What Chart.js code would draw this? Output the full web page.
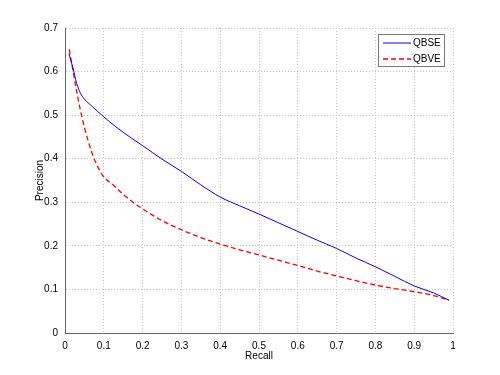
<!DOCTYPE html>
<html lang="en">
<head>
  <meta charset="UTF-8">
  <title>Precision / Recall</title>
  <style>
    body { margin: 0; background: #ffffff; }
    #wrap { width: 500px; height: 375px; }
  </style>
</head>
<body>
  <div id="wrap"><canvas id="prChart" width="500" height="375"></canvas></div>

  <script src="https://cdn.jsdelivr.net/npm/chart.js"></script>
  <script>
    // Series
    const qbseRecall = [0.01, 0.02, 0.03, 0.04, 0.05, 0.07, 0.1, 0.13, 0.17, 0.2, 0.25, 0.3, 0.35, 0.4, 0.45, 0.5, 0.55, 0.6, 0.65, 0.7, 0.75, 0.8, 0.85, 0.9, 0.95, 0.99];
    const qbsePrecision = [0.641, 0.61, 0.573, 0.55, 0.537, 0.52, 0.496, 0.474, 0.448, 0.43, 0.399, 0.371, 0.34, 0.312, 0.292, 0.273, 0.253, 0.233, 0.213, 0.194, 0.172, 0.152, 0.13, 0.108, 0.092, 0.075];

    const qbveRecall = [0.011, 0.02, 0.03, 0.04, 0.05, 0.06, 0.07, 0.08, 0.09, 0.1, 0.125, 0.15, 0.2, 0.25, 0.3, 0.35, 0.4, 0.45, 0.5, 0.55, 0.6, 0.65, 0.7, 0.75, 0.8, 0.85, 0.9, 0.95, 0.99];
    const qbvePrecision = [0.651, 0.605, 0.555, 0.51, 0.472, 0.44, 0.412, 0.39, 0.372, 0.358, 0.339, 0.318, 0.285, 0.258, 0.237, 0.219, 0.204, 0.191, 0.179, 0.167, 0.155, 0.142, 0.131, 0.12, 0.11, 0.102, 0.095, 0.086, 0.075];

    const seriesLabels = ['QBSE', 'QBVE'];
    const xTicks = [0, 0.1, 0.2, 0.3, 0.4, 0.5, 0.6, 0.7, 0.8, 0.9, 1];
    const yTicks = [0, 0.1, 0.2, 0.3, 0.4, 0.5, 0.6, 0.7];

    const toPoints = (xs, ys) => xs.map((x, i) => ({ x: x, y: ys[i] }));
    const fontSpec = { family: "'Liberation Sans', Arial, sans-serif", size: 10 };

    // matlab-style boxed legend in the top right corner
    const boxLegend = {
      id: 'boxLegend',
      afterDraw(chart) {
        const ctx = chart.ctx;
        const area = chart.chartArea;
        const x0 = area.right - 75, y0 = area.top + 6, w = 66, h = 32;
        ctx.save();
        ctx.fillStyle = '#ffffff';
        ctx.fillRect(x0, y0, w, h);
        ctx.strokeStyle = '#7a7a7a';
        ctx.lineWidth = 1;
        ctx.strokeRect(x0 + 0.5, y0 + 0.5, w, h);
        ctx.font = '10px ' + fontSpec.family;
        ctx.textBaseline = 'middle';
        chart.data.datasets.forEach((ds, i) => {
          const y = y0 + 9 + i * 16;
          ctx.strokeStyle = ds.borderColor;
          ctx.lineWidth = ds.borderWidth;
          ctx.setLineDash(ds.borderDash || []);
          ctx.beginPath();
          ctx.moveTo(x0 + 5, y);
          ctx.lineTo(x0 + 33, y);
          ctx.stroke();
          ctx.setLineDash([]);
          ctx.fillStyle = '#000000';
          ctx.fillText(ds.label, x0 + 35, y);
        });
        ctx.restore();
      }
    };

    new Chart(document.getElementById('prChart'), {
      type: 'line',
      data: {
        datasets: [{
          label: seriesLabels[0],
          data: toPoints(qbseRecall, qbsePrecision),
          borderColor: '#0000ff',
          borderWidth: 1,
          pointRadius: 0,
          cubicInterpolationMode: 'monotone'
        }, {
          label: seriesLabels[1],
          data: toPoints(qbveRecall, qbvePrecision),
          borderColor: '#ff0000',
          borderWidth: 1.3,
          borderDash: [5, 3],
          pointRadius: 0,
          cubicInterpolationMode: 'monotone'
        }]
      },
      options: {
        responsive: false,
        animation: false,
        layout: { padding: { top: 28, right: 47, bottom: 0, left: 0 } },
        plugins: {
          legend: { display: false },
          tooltip: { enabled: false }
        },
        scales: {
          x: {
            type: 'linear',
            min: 0,
            max: 1,
            afterBuildTicks: (scale) => { scale.ticks = xTicks.map(v => ({ value: v })); },
            afterFit: (scale) => { scale.height = 42; },
            ticks: {
              color: '#000000',
              font: fontSpec,
              padding: 7,
              maxRotation: 0,
              callback: (v) => String(v)
            },
            grid: { color: '#c4c4c4', drawTicks: false },
            border: { display: true, color: '#666666', dash: [1, 2] },
            title: {
              display: true,
              text: 'Recall',
              color: '#000000',
              font: fontSpec,
              padding: { top: 0, bottom: 13 }
            }
          },
          y: {
            min: 0,
            max: 0.7,
            afterBuildTicks: (scale) => { scale.ticks = yTicks.map(v => ({ value: v })); },
            afterFit: (scale) => { scale.width = 65; },
            ticks: {
              color: '#000000',
              font: fontSpec,
              padding: 7,
              callback: (v) => String(v)
            },
            grid: { color: '#c4c4c4', drawTicks: false },
            border: { display: true, color: '#666666', dash: [1, 2] },
            title: {
              display: true,
              text: 'Precision',
              color: '#000000',
              font: fontSpec,
              padding: { top: 34, bottom: 0 }
            }
          }
        }
      },
      plugins: [boxLegend]
    });
  </script>
</body>
</html>
